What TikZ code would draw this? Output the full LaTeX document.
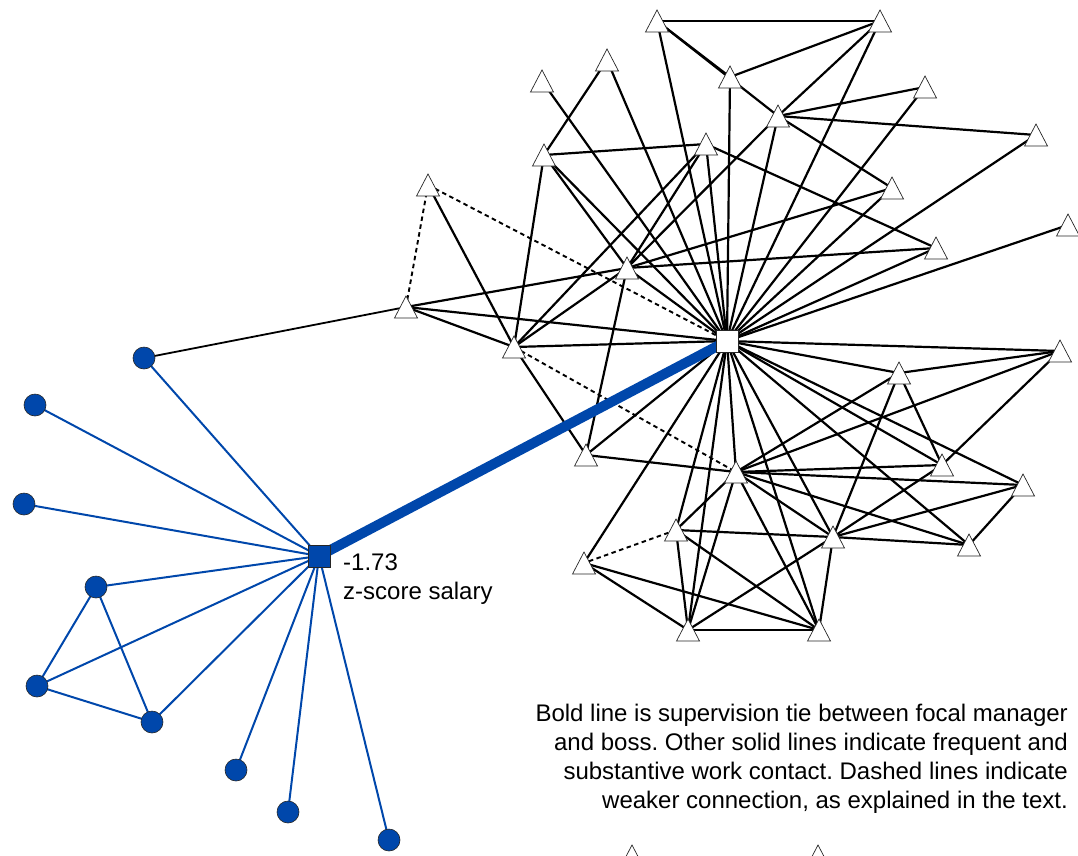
\documentclass[tikz,border=0pt]{standalone}
\usepackage{fontspec}
\setmainfont{Liberation Sans}
\usetikzlibrary{backgrounds}
\definecolor{mgblue}{RGB}{0,71,171}
\frenchspacing
\begin{document}
\begin{tikzpicture}[x=1pt,y=-1pt,
  edge/.style={line width=2.2pt, black},
  weak/.style={line width=1.9pt, black, dash pattern=on 4.5pt off 3.5pt},
  blueedge/.style={line width=2pt, mgblue},
  supervision/.style={line width=10pt, mgblue},
  tri/.style={fill=white, draw=black!85, line width=0.7pt, line join=miter},
  bossbox/.style={rectangle, draw=black!85, fill=white, line width=0.8pt, minimum size=22pt, inner sep=0pt},
  focalbox/.style={rectangle, draw=black!85, fill=mgblue, line width=0.8pt, minimum size=22pt, inner sep=0pt},
  contact/.style={circle, draw=black!85, fill=mgblue, line width=0.6pt, minimum size=22pt, inner sep=0pt},
  txt/.style={inner sep=0pt, font=\fontsize{24}{29}\selectfont}]
\clip (0,0) rectangle (1078,855);

% boss's network (triangles)
\coordinate (t1) at (657,21);
\coordinate (t2) at (880,21);
\coordinate (t3) at (730,77);
\coordinate (t4) at (607,60);
\coordinate (t5) at (542,81);
\coordinate (t6) at (925,87);
\coordinate (t7) at (778,116);
\coordinate (t8) at (1036,135);
\coordinate (t9) at (706,144);
\coordinate (t10) at (544,155);
\coordinate (t11) at (892,188);
\coordinate (t12) at (428,185);
\coordinate (t13) at (936,248);
\coordinate (t14) at (1068,225);
\coordinate (t15) at (627,268);
\coordinate (t16) at (406,307);
\coordinate (t17) at (514,347);
\coordinate (t18) at (1060,351);
\coordinate (t19) at (899,373);
\coordinate (t20) at (586,455);
\coordinate (t21) at (736,472);
\coordinate (t22) at (942,465);
\coordinate (t23) at (1023,485);
\coordinate (t24) at (676,530);
\coordinate (t25) at (833,537);
\coordinate (t26) at (969,545);
\coordinate (t27) at (584,563);
\coordinate (t28) at (688,630);
\coordinate (t29) at (819,630);
\coordinate (t30) at (632,856);
\coordinate (t31) at (818,856);

% boss and focal manager
\node[bossbox] (b) at (727,341) {};
\node[focalbox] (f) at (319,556) {};

% focal manager's contacts
\node[contact] (c1) at (144,358) {};
\node[contact] (c2) at (35,405) {};
\node[contact] (c3) at (24,504) {};
\node[contact] (c4) at (96,587) {};
\node[contact] (c5) at (37,686) {};
\node[contact] (c6) at (152,722) {};
\node[contact] (c7) at (236,770) {};
\node[contact] (c8) at (288,812) {};
\node[contact] (c9) at (389,840) {};

\begin{pgfonlayer}{background}
  % frequent and substantive contacts
  \foreach \p/\q in {t1/t2, t1/t3, t1/t7, t1/b.center, t2/t3, t2/t7, t2/b.center, t3/b.center,
      t4/t10, t4/b.center, t5/b.center, t6/t7, t6/b.center, t7/t8, t7/t11, t7/b.center, t7/t15,
      t8/b.center, t9/t10, t9/t13, t9/b.center, t9/t17, t9/t15, t10/t17, t10/b.center, t10/t15,
      t11/t15, t11/b.center, t12/t17, t13/t15, t13/b.center, t14/b.center, t15/t16, t15/b.center,
      t15/t17, t15/t20, t16/b.center, t16/t17, t17/b.center, t17/t20, t20/b.center, t20/t21,
      t21/b.center, t21/t24, t21/t28, t21/t29, t21/t25, t21/t26, t21/t23, t21/t22, t21/t19, t21/t18,
      b.center/t18, b.center/t19, b.center/t22, b.center/t23, b.center/t26, b.center/t25,
      b.center/t29, b.center/t28, b.center/t24, b.center/t27,
      t18/t19, t18/t22, t19/t22, t19/t25, t22/t25, t23/t25, t23/t26, t25/t26,
      t24/t25, t24/t28, t24/t29, t25/t28, t25/t29, t27/t28, t27/t29, t28/t29}
    \draw[edge] (\p) -- (\q);
  % weaker connections
  \foreach \p/\q in {t12/t16, t12/b.center, t17/t21, t24/t27}
    \draw[weak] (\p) -- (\q);
  % contact bridging the two networks
  \draw[line width=1.8pt] (c1.center) -- (t16);
  % focal manager's ties
  \foreach \q in {c1,c2,c3,c4,c5,c6,c7,c8,c9}
    \draw[blueedge] (f.center) -- (\q.center);
  \draw[blueedge] (c4.center) -- (c5.center);
  \draw[blueedge] (c4.center) -- (c6.center);
  \draw[blueedge] (c5.center) -- (c6.center);
  % supervision tie
  \draw[supervision] (f.center) -- (b.center);
\end{pgfonlayer}

% triangle markers
\foreach \i in {1,...,31}
  \filldraw[tri] (t\i) ++(0,-11) -- ++(-11.5,22) -- ++(23,0) -- cycle;

% labels
\node[txt, anchor=north west, align=left] (lbl) at (343,554) {-1.73\\z-score salary};
\node[txt, anchor=north east, align=right] (note) at (1068,704)
  {Bold line is supervision tie between focal manager\\and boss. Other solid lines indicate frequent and\\substantive work contact. Dashed lines indicate\\weaker connection, as explained in the text.};
\end{tikzpicture}
\end{document}
